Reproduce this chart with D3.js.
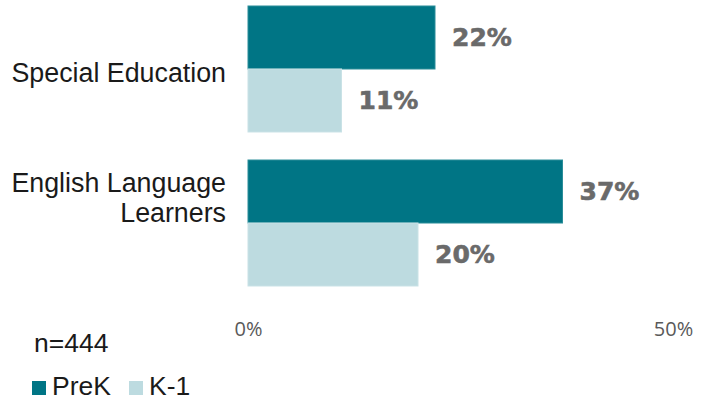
<!DOCTYPE html>
<html>
<head>
<meta charset="utf-8">
<script src="https://cdn.jsdelivr.net/npm/d3@7"></script>
<style>
  html, body { margin: 0; padding: 0; background: #ffffff; }
  svg { display: block; }
</style>
</head>
<body>
<svg id="chart" width="706" height="400"></svg>
<script>
// Groups shown on the vertical axis, each may wrap onto several lines
const categories = ["Special Education", "English Language Learners"];
const categoryLines = [["Special Education"], ["English Language", "Learners"]];
// Series (grade bands) and their shares
const seriesNames = ["PreK", "K-1"];
const preK = [0.22, 0.37];
const k1 = [0.11, 0.20];
// Axis ticks
const xTicks = [0, 0.5];
const sampleNote = "n=444";

const colors = { "PreK": "#007585", "K-1": "#bddbe0" };
const strokes = { "PreK": "#2a8d99", "K-1": "#c9e2e6" };

const svg = d3.select("#chart");

const x = d3.scaleLinear().domain([0, 0.5]).range([248, 673]);

const yGroup = d3.scaleBand()
  .domain(categories)
  .range([6, 286])
  .paddingInner(0.182)
  .paddingOuter(0);

const ySeries = d3.scaleBand()
  .domain(seriesNames)
  .range([0, yGroup.bandwidth()])
  .padding(0);

const rows = categories.map((c, i) => ({
  category: c,
  lines: categoryLines[i],
  values: [
    { series: "PreK", value: preK[i] },
    { series: "K-1", value: k1[i] }
  ]
}));

const groups = svg.selectAll("g.group")
  .data(rows)
  .join("g")
  .attr("class", "group")
  .attr("transform", d => `translate(0,${yGroup(d.category)})`);

// Bars
groups.selectAll("rect")
  .data(d => d.values)
  .join("rect")
  .attr("x", x(0))
  .attr("y", d => ySeries(d.series))
  .attr("width", d => x(d.value) - x(0))
  .attr("height", ySeries.bandwidth())
  .attr("fill", d => colors[d.series])
  .attr("stroke", d => strokes[d.series])
  .attr("stroke-width", 1);

// Value labels
groups.selectAll("text.value")
  .data(d => d.values)
  .join("text")
  .attr("class", "value")
  .attr("x", d => x(d.value) + 17)
  .attr("y", d => ySeries(d.series) + ySeries.bandwidth() / 2 + 9)
  .attr("font-family", "'DejaVu Sans', sans-serif")
  .attr("font-weight", "bold")
  .attr("font-size", 25)
  .attr("fill", "#6a6a6a")
  .attr("stroke", "#6a6a6a")
  .attr("stroke-width", 0.6)
  .text(d => d3.format(".0%")(d.value));

// Category labels, right-aligned against the bars
groups.each(function(d) {
  const g = d3.select(this);
  const mid = yGroup.bandwidth() / 2;
  const lineH = 30;
  const n = d.lines.length;
  const first = n === 1 ? mid + 13 : mid - 30.5;
  g.selectAll("text.cat")
    .data(d.lines)
    .join("text")
    .attr("class", "cat")
    .attr("x", 226)
    .attr("y", (t, i) => first + i * lineH)
    .attr("text-anchor", "end")
    .attr("font-family", "'Liberation Sans', Arial, sans-serif")
    .attr("font-size", 26.8)
    .attr("fill", "#1a1a1a")
    .text(t => t);
});

// X axis (labels only, no line or tick marks)
const xAxis = d3.axisBottom(x)
  .tickValues(xTicks)
  .tickFormat(d3.format(".0%"))
  .tickSize(0)
  .tickPadding(0);

const axisG = svg.append("g")
  .attr("transform", "translate(0,322)")
  .call(xAxis);
axisG.select(".domain").remove();
axisG.selectAll("text")
  .attr("font-family", "'Open Sans', sans-serif")
  .attr("font-size", 20)
  .attr("fill", "#595959")
  .attr("dy", "0.72em");

// Sample size note
svg.append("text")
  .attr("x", 34)
  .attr("y", 352)
  .attr("font-family", "'Liberation Sans', Arial, sans-serif")
  .attr("font-size", 26.5)
  .attr("fill", "#1a1a1a")
  .text(sampleNote);

// Legend
const legendX = [32, 129];
const legend = svg.selectAll("g.legend")
  .data(seriesNames)
  .join("g")
  .attr("class", "legend")
  .attr("transform", (d, i) => `translate(${legendX[i]},381)`);

legend.append("rect")
  .attr("width", 14)
  .attr("height", 14)
  .attr("fill", d => colors[d]);

legend.append("text")
  .attr("x", 20)
  .attr("y", 14)
  .attr("font-family", "'Liberation Sans', Arial, sans-serif")
  .attr("font-size", 26.5)
  .attr("fill", "#1a1a1a")
  .text(d => d);
</script>
</body>
</html>
